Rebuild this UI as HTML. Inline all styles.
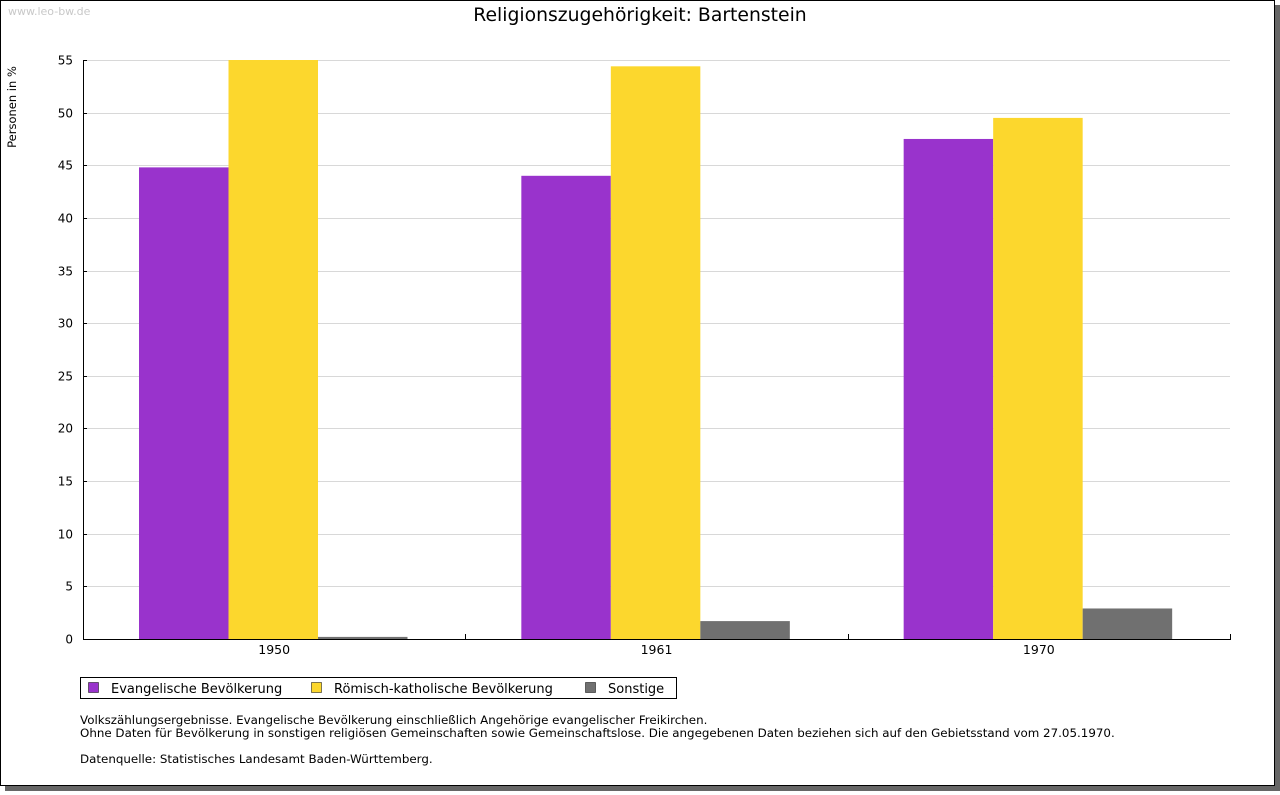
<!DOCTYPE html>
<html><head><meta charset="utf-8"><style>
body{margin:0;width:1280px;height:791px;background:#fff;overflow:hidden;font-family:"DejaVu Sans","Liberation Sans",sans-serif;}
</style></head><body>
<svg width="1280" height="791" xmlns="http://www.w3.org/2000/svg" font-family="DejaVu Sans, Liberation Sans, sans-serif">
<rect x="5" y="5" width="1275" height="786" fill="#666"/>
<rect x="0.5" y="0.5" width="1274" height="785" fill="#fff" stroke="#000"/>
<text x="8" y="15" font-size="11" fill="#c8c8c8">www.leo-bw.de</text>
<text x="640" y="21" font-size="18.8" text-anchor="middle">Religionszugehörigkeit: Bartenstein</text>
<text transform="translate(16,107) rotate(-90)" font-size="11.5" text-anchor="middle">Personen in %</text>
<g id="grid"></g><g id="bars"></g><g id="axes"></g>
<g>
<rect x="80.5" y="677.5" width="596" height="21" fill="#fff" stroke="#000"/>
<rect x="88.5" y="682.5" width="10" height="10" fill="#9933cc" stroke="#000" stroke-width="0.5"/>
<text x="111" y="693" font-size="13">Evangelische Bevölkerung</text>
<rect x="311.5" y="682.5" width="10" height="10" fill="#fcd72d" stroke="#000" stroke-width="0.5"/>
<text x="334" y="693" font-size="13">Römisch-katholische Bevölkerung</text>
<rect x="585.5" y="682.5" width="10" height="10" fill="#707070" stroke="#000" stroke-width="0.5"/>
<text x="608" y="693" font-size="13">Sonstige</text>
</g>
<g font-size="11.86">
<text x="80" y="724">Volkszählungsergebnisse. Evangelische Bevölkerung einschließlich Angehörige evangelischer Freikirchen.</text>
<text x="80" y="737">Ohne Daten für Bevölkerung in sonstigen religiösen Gemeinschaften sowie Gemeinschaftslose. Die angegebenen Daten beziehen sich auf den Gebietsstand vom 27.05.1970.</text>
<text x="80" y="763">Datenquelle: Statistisches Landesamt Baden-Württemberg.</text>
</g>
</svg>
<script>
const categories=["1950","1961","1970"];
const evangelisch=[44.8,44.0,47.5];
const katholisch=[55.0,54.4,49.5];
const sonstige=[0.2,1.7,2.9];
const yTicks=[0,5,10,15,20,25,30,35,40,45,50,55];
const colors=["#9933cc","#fcd72d","#707070"];
const names=["evangelisch","katholisch","sonstige"];
const X0=83,X1=1230,Y0=639,Y1=60,YMAX=55;
const ns="http://www.w3.org/2000/svg";
const y=v=>Y0-(v/YMAX)*(Y0-Y1);
const gw=(X1-X0)/categories.length;
function mk(tag,attrs,parent){const e=document.createElementNS(ns,tag);for(const k in attrs)e.setAttribute(k,attrs[k]);document.getElementById(parent).appendChild(e);return e;}
yTicks.forEach(t=>{
 const yy=Math.round(y(t))+0.5;
 if(t>0){const l=mk("line",{x1:X0,x2:X1,y1:yy,y2:yy,stroke:"#d8d8d8"},"grid");
 
 }
 const tk=mk("line",{x1:X0,x2:X0+4,y1:yy,y2:yy,stroke:"#000"},"axes");
 
 
 const tx=mk("text",{x:X0-10,y:yy+4,"font-size":12,"text-anchor":"end"},"axes");
 tx.textContent=t;
 
 
});
const series=[evangelisch,katholisch,sonstige];
const bw=89.5, off=55;
categories.forEach((c,i)=>{
 const gx=X0+i*gw;
 series.forEach((s,j)=>{
  const r=mk("rect",{x:gx+off+1+j*bw,y:y(s[i]),width:bw,height:Y0-y(s[i]),fill:colors[j]},"bars");
  
  
 });
 const tx=mk("text",{x:gx+gw/2,y:Y0+15,"font-size":12.5,"text-anchor":"middle"},"axes");
 tx.textContent=c;
 
 
 const tk=mk("line",{x1:Math.round(gx+gw)+0.5,x2:Math.round(gx+gw)+0.5,y1:Y0-5,y2:Y0,stroke:"#000"},"axes");
 
 
});
const ya=mk("line",{x1:X0+0.5,x2:X0+0.5,y1:Y1,y2:Y0,stroke:"#000"},"axes");


const xa=mk("line",{x1:X0,x2:X1+1,y1:Y0+0.5,y2:Y0+0.5,stroke:"#000"},"axes");


</script>
</body></html>
